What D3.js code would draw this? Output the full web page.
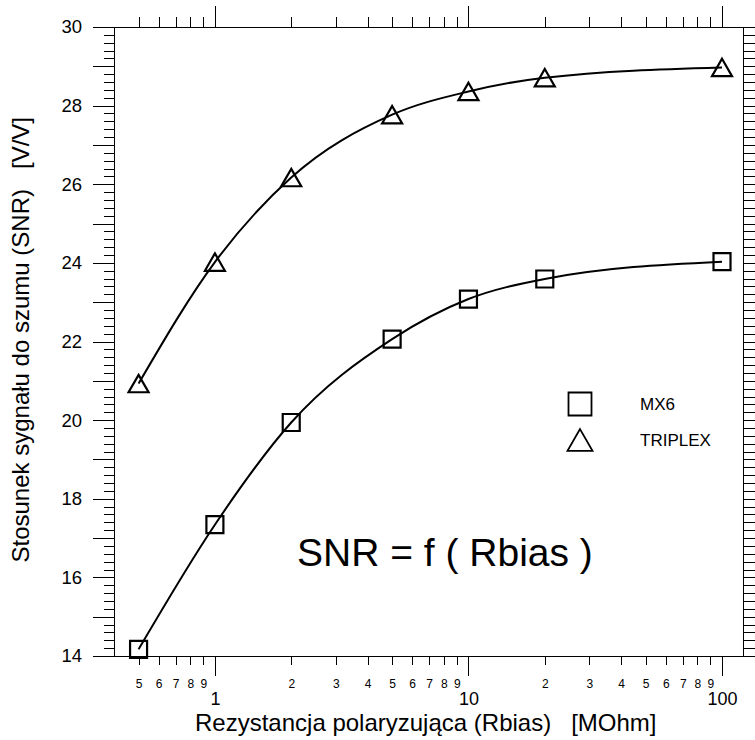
<!DOCTYPE html>
<html>
<head>
<meta charset="utf-8">
<script src="https://cdn.jsdelivr.net/npm/d3@7"></script>
<style>
  body { margin: 0; background: #fff; }
  svg { font-family: "Liberation Sans", Arial, sans-serif; }
  svg text { white-space: pre; }
  .tick line { stroke: #000; }
</style>
</head>
<body>
<div id="chart"></div>
<script>
// Rbias [MOhm]
let rbias = [0.5, 1, 2, 5, 10, 20, 100];
// SNR [V/V]
let mx6 = [14.17, 17.34, 19.94, 22.06, 23.08, 23.59, 24.03];
let triplex = [20.93, 24.02, 26.17, 27.77, 28.36, 28.71, 28.97];

let seriesNames = ['MX6', 'TRIPLEX'];
let xMajor = [1, 10, 100];
let xMinor = [0.5, 0.6, 0.7, 0.8, 0.9, 2, 3, 4, 5, 6, 7, 8, 9, 20, 30, 40, 50, 60, 70, 80, 90];
let yLabels = [14, 16, 18, 20, 22, 24, 26, 28, 30];

const width = 755, height = 740;
const L = 114, R = 743, T = 27, B = 656;

let svg = d3.select('#chart').append('svg')
    .attr('width', width)
    .attr('height', height);

let x = d3.scaleLog().domain([0.4, 121]).range([L, R]);
let y = d3.scaleLinear().domain([14, 30]).range([B, T]);

// y ticks: every 0.2, integers longer
let yAll = d3.range(70, 151).map(d => d / 5);
let yInt = yAll.filter(d => Math.abs(d - Math.round(d)) < 1e-9);
let yFine = yAll.filter(d => Math.abs(d - Math.round(d)) > 1e-9);

function leading(d) {
    return String(Math.round(d / Math.pow(10, Math.floor(Math.log10(d) + 1e-9))));
}

function cleanAxis(g) {
    g.select('.domain').remove();
    g.selectAll('line').attr('shape-rendering', 'crispEdges');
}

// bottom
svg.append('g').attr('transform', `translate(0,${B})`)
    .call(d3.axisBottom(x).tickValues(xMinor).tickSize(9).tickFormat(leading))
    .call(cleanAxis)
    .call(g => g.selectAll('text').attr('y', 28).attr('dy', '0.35em')
        .attr('font-size', 12).attr('font-family', null).attr('fill', '#000'));
svg.append('g').attr('transform', `translate(0,${B})`)
    .call(d3.axisBottom(x).tickValues(xMajor).tickSize(20).tickFormat(d3.format('d')))
    .call(cleanAxis)
    .call(g => g.selectAll('text').attr('y', 43).attr('dy', '0.35em')
        .attr('font-size', 18).attr('font-family', null).attr('fill', '#000'));

// top
svg.append('g').attr('transform', `translate(0,${T})`)
    .call(d3.axisTop(x).tickValues(xMinor).tickSize(10).tickFormat(''))
    .call(cleanAxis);
svg.append('g').attr('transform', `translate(0,${T})`)
    .call(d3.axisTop(x).tickValues(xMajor).tickSize(21).tickFormat(''))
    .call(cleanAxis);

// left
svg.append('g').attr('transform', `translate(${L},0)`)
    .call(d3.axisLeft(y).tickValues(yFine).tickSize(10).tickFormat(''))
    .call(cleanAxis);
svg.append('g').attr('transform', `translate(${L},0)`)
    .call(d3.axisLeft(y).tickValues(yInt).tickSize(21).tickPadding(11)
        .tickFormat(d => yLabels.includes(d) ? d : ''))
    .call(cleanAxis)
    .call(g => g.selectAll('text').attr('font-size', 18.5).attr('font-family', null).attr('fill', '#000'));

// right
svg.append('g').attr('transform', `translate(${R},0)`)
    .call(d3.axisRight(y).tickValues(yAll).tickSize(14).tickFormat(''))
    .call(cleanAxis);

// frame lines
let frame = [
    [93, T, width, T],
    [93, B, R, B],
    [L, T, L, B],
    [R, T, R, B]
];
svg.append('g').selectAll('line').data(frame).enter()
    .append('line')
    .attr('x1', d => d[0]).attr('y1', d => d[1])
    .attr('x2', d => d[2]).attr('y2', d => d[3])
    .attr('stroke', '#000')
    .attr('shape-rendering', 'crispEdges');

// curves
let line = d3.line()
    .x(d => x(d[0]))
    .y(d => y(d[1]))
    .curve(d3.curveMonotoneX);

let series = [d3.zip(rbias, mx6), d3.zip(rbias, triplex)];

svg.append('g').selectAll('path').data(series).enter()
    .append('path')
    .attr('d', line)
    .attr('fill', 'none')
    .attr('stroke', '#000')
    .attr('stroke-width', 2);

function square(s) {
    return `M${-s / 2},${-s / 2}h${s}v${s}h${-s}Z`;
}
function triangle(w) {
    let h = w * 0.87;
    return `M0,${-h / 2}L${w / 2},${h / 2}L${-w / 2},${h / 2}Z`;
}

svg.append('g').selectAll('path').data(series[0]).enter()
    .append('path')
    .attr('transform', d => `translate(${x(d[0])},${y(d[1])})`)
    .attr('d', square(17))
    .attr('fill', 'none').attr('stroke', '#000').attr('stroke-width', 2.2);

svg.append('g').selectAll('path').data(series[1]).enter()
    .append('path')
    .attr('transform', d => `translate(${x(d[0])},${y(d[1])})`)
    .attr('d', triangle(20))
    .attr('fill', 'none').attr('stroke', '#000').attr('stroke-width', 2.2);

// legend
let legend = svg.append('g');
let legendY = [404, 440];
legend.append('path').attr('transform', `translate(580,${legendY[0]})`)
    .attr('d', square(23)).attr('fill', 'none').attr('stroke', '#000').attr('stroke-width', 1.8);
legend.append('path').attr('transform', `translate(580,${legendY[1]})`)
    .attr('d', triangle(25)).attr('fill', 'none').attr('stroke', '#000').attr('stroke-width', 1.8);
legend.selectAll('text').data(seriesNames).enter()
    .append('text')
    .attr('x', 640)
    .attr('y', (d, i) => legendY[i])
    .attr('dy', '0.35em')
    .attr('font-size', 17)
    .text(d => d);

// formula
svg.append('text')
    .attr('x', 297).attr('y', 566)
    .attr('font-size', 39)
    .text('SNR = f ( Rbias )');

// axis titles
svg.append('text')
    .attr('x', 195).attr('y', 731)
    .attr('font-size', 24)
    .text('Rezystancja polaryzująca (Rbias)   [MOhm]');

svg.append('text')
    .attr('transform', 'translate(29,117) rotate(-90)')
    .attr('text-anchor', 'end')
    .attr('font-size', 24)
    .text('Stosunek sygnału do szumu (SNR)   [V/V]');
</script>
</body>
</html>
